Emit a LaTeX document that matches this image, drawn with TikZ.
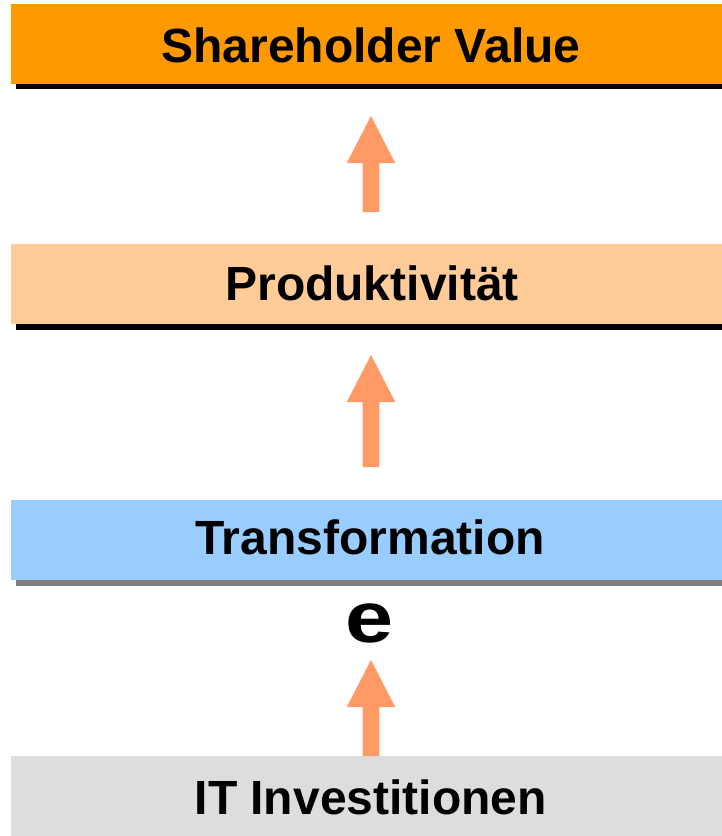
\documentclass[tikz,border=0pt]{standalone}
\usepackage{fontspec}
\setmainfont{Liberation Sans}
\usetikzlibrary{calc}
\definecolor{svorange}{HTML}{FF9900}
\definecolor{prodpeach}{HTML}{FFCC99}
\definecolor{transblue}{HTML}{99CCFF}
\definecolor{itgray}{HTML}{DDDDDD}
\definecolor{arrowsalmon}{HTML}{FF9966}
\definecolor{shadowgray}{HTML}{808080}
\tikzset{
  barbox/.style={draw=none, inner sep=0pt, outer sep=0pt, anchor=north west,
    minimum width=740pt, minimum height=79.5pt},
  bartext/.style={inner sep=0pt, anchor=base, font=\bfseries\fontsize{48}{52}\selectfont},
  shadowbox/.style={draw=none, inner sep=0pt, outer sep=0pt, anchor=north west,
    minimum width=740pt, minimum height=79.5pt},
  blockarrow/.style={fill=arrowsalmon, draw=none}
}
\newcommand{\uparr}[2]{%
  \fill[blockarrow] ($(#1)+(-8.3,0)$) -- ($(#2)+(-8.3,47)$) -- ($(#2)+(-24.2,47)$) -- (#2)
    -- ($(#2)+(24.2,47)$) -- ($(#2)+(8.3,47)$) -- ($(#1)+(8.3,0)$) -- cycle;}
\begin{document}
\begin{tikzpicture}[x=1pt,y=-1pt]
\useasboundingbox (0,0) rectangle (722,836);
\clip (0,0) rectangle (722,836);
\fill[white] (0,0) rectangle (722,836);
% shadows
\node[shadowbox, fill=black] (svs) at (16,9.5) {};
\node[shadowbox, fill=black] (prs) at (16,250) {};
\node[shadowbox, fill=shadowgray] (trs) at (16,506) {};
% bars
\node[barbox, fill=svorange] (sv) at (11,4) {};
\node[barbox, fill=prodpeach] (pr) at (11,244) {};
\node[barbox, fill=transblue] (tr) at (11,500) {};
\node[barbox, fill=itgray, minimum height=90pt] (it) at (11,756) {};
% texts
\node[bartext] (svt) at (371,62.7) {Shareholder Value};
\node[bartext] (prt) at (372,300.7) {Produktivität};
\node[bartext] (trt) at (370,554) {Transformation};
\node[bartext] (itt) at (370.7,814) {IT Investitionen};
\node[inner sep=0pt, anchor=base, font=\bfseries\fontsize{72}{76}\selectfont] (e) at (370,642) {\scalebox{1.2}[1]{e}};
% arrows
\coordinate (a1tail) at (371,212);
\coordinate (a1tip) at (371,116);
\coordinate (a2tail) at (371,467);
\coordinate (a2tip) at (371,355);
\coordinate (a3tail) at (371,756);
\coordinate (a3tip) at (371,660);
\uparr{a1tail}{a1tip}
\uparr{a2tail}{a2tip}
\uparr{a3tail}{a3tip}
\end{tikzpicture}
\end{document}
